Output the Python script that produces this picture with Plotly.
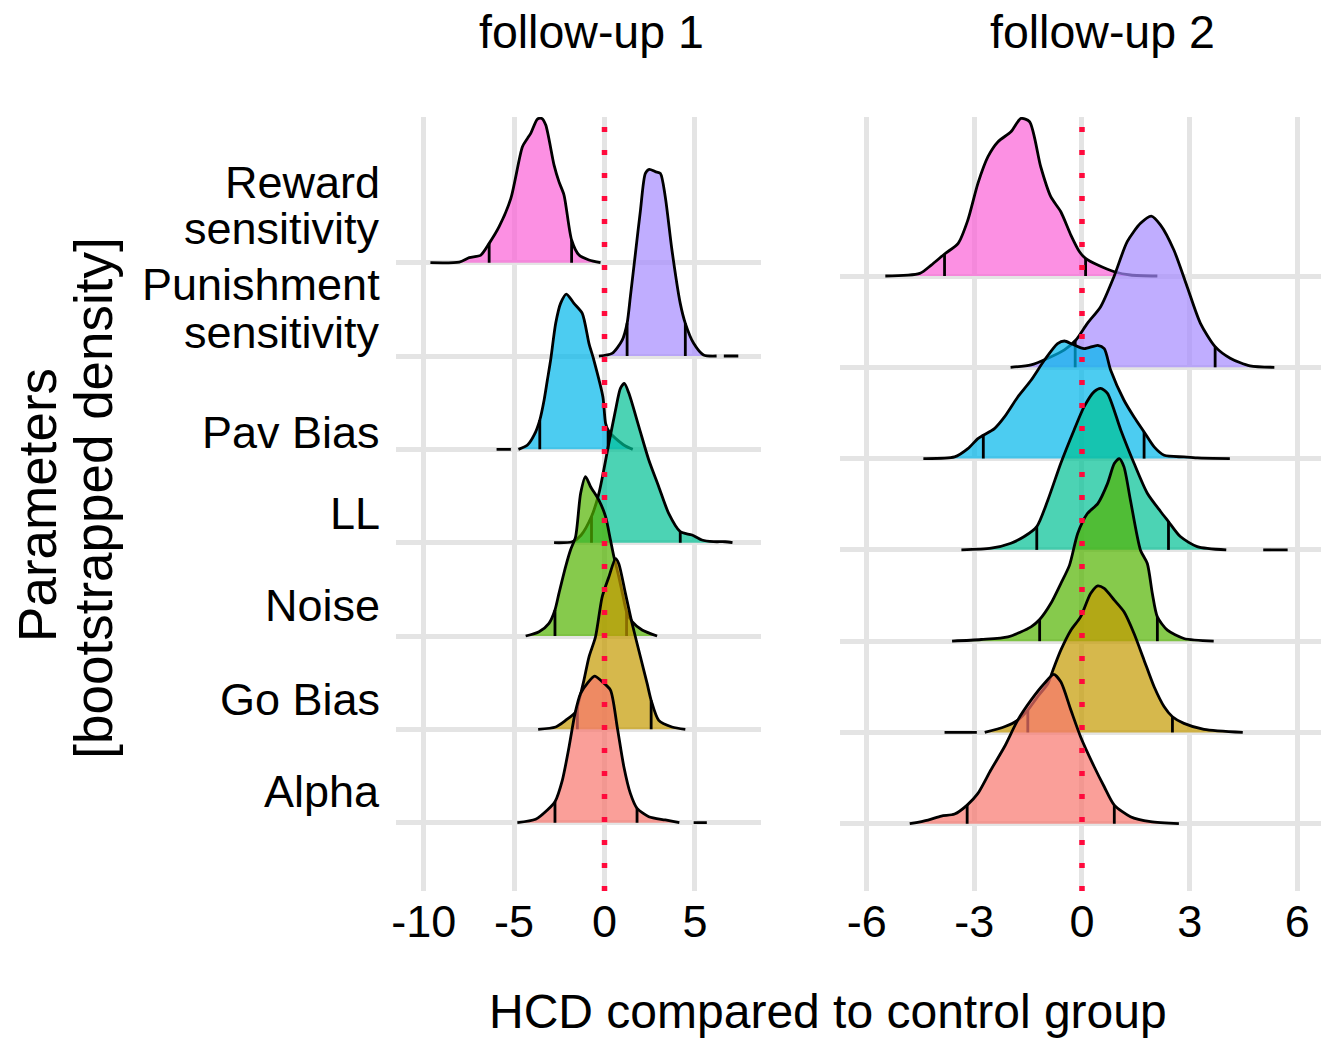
import numpy as np
import plotly.graph_objects as go

# ---------------- data ----------------
categories = ["Alpha", "Go Bias", "Noise", "LL", "Pav Bias",
              "Punishment sensitivity", "Reward sensitivity"]
colors = ["#F8766D", "#C49A00", "#53B400", "#00C094", "#00B6EB", "#A58AFF", "#FB61D7"]
panel_titles = ["follow-up 1", "follow-up 2"]
f1_ticks = [-10, -5, 0, 5]
f2_ticks = [-6, -3, 0, 3, 6]

# follow-up 1: x = HCD difference, h = scaled density height (in ridge units)
f1_reward_x = [-9.63, -8.03, -7.48, -6.84, -6.38, -5.83, -5.18, -4.54, -4.26, -4.08, -3.71, -3.47, -3.25, -2.79, -2.52, -2.24, -1.82, -1.41, -0.86, -0.22]
f1_reward_h = [0, 0.007, 0.054, 0.082, 0.207, 0.386, 0.689, 1.243, 1.332, 1.386, 1.539, 1.546, 1.475, 1.046, 0.868, 0.725, 0.243, 0.082, 0.029, 0]
f1_reward_q = [-6.38, -1.82]

f1_pun_x = [-0.31, 0.42, 0.98, 1.25, 1.43, 1.71, 1.99, 2.26, 2.48, 2.81, 3.09, 3.36, 3.73, 4.19, 4.47, 4.93, 5.48, 6.2]
f1_pun_h = [0, 0.029, 0.171, 0.35, 0.636, 1.1, 1.564, 1.957, 2.0, 1.975, 1.957, 1.707, 1.136, 0.564, 0.35, 0.136, 0.011, 0]
f1_pun_q = [1.25, 4.47]
f1_pun_tail = [6.6, 7.4]

f1_pav_x = [-4.76, -4.26, -3.89, -3.58, -3.34, -3.16, -2.98, -2.70, -2.43, -2.11, -1.69, -1.23, -0.86, -0.59, -0.09, 0.06, 0.24, 0.61, 1.16, 1.56]
f1_pav_h = [0, 0.046, 0.154, 0.314, 0.529, 0.743, 0.957, 1.35, 1.564, 1.664, 1.564, 1.457, 1.136, 0.957, 0.564, 0.279, 0.19, 0.118, 0.036, 0]
f1_pav_q = [-3.58, 0.2]
f1_pav_tail = [-5.97, -5.18]

f1_ll_x = [-2.79, -1.78, -1.3, -0.72, -0.31, 0.24, 0.61, 0.88, 1.10, 1.35, 1.90, 2.45, 3.00, 3.55, 4.19, 4.84, 5.39, 6.03, 6.67, 7.08]
f1_ll_h = [0, 0.01, 0.08, 0.28, 0.529, 1.064, 1.421, 1.654, 1.707, 1.6, 1.243, 0.886, 0.6, 0.314, 0.118, 0.082, 0.029, 0.011, 0.01, 0]
f1_ll_q = [-0.72, 4.19]

f1_noise_x = [-4.36, -3.62, -3.07, -2.74, -2.52, -2.15, -1.88, -1.6, -1.32, -1.05, -0.77, -0.31, 0.06, 0.33, 0.52, 0.79, 1.03, 1.22, 1.53, 2.08, 2.91]
f1_noise_h = [0, 0.046, 0.136, 0.279, 0.457, 0.743, 0.921, 1.064, 1.529, 1.707, 1.6, 1.457, 1.279, 1.029, 0.85, 0.636, 0.42, 0.26, 0.154, 0.064, 0]
f1_noise_q = [-2.74, 1.22]

f1_go_x = [-3.67, -2.70, -2.15, -1.6, -1.41, -1.14, -0.86, -0.50, -0.13, 0.24, 0.61, 0.79, 1.16, 1.53, 1.99, 2.36, 2.58, 3.0, 3.73, 4.47]
f1_go_h = [0, 0.025, 0.096, 0.186, 0.31, 0.525, 0.775, 0.989, 1.418, 1.632, 1.829, 1.775, 1.454, 1.132, 0.775, 0.489, 0.311, 0.096, 0.025, 0]
f1_go_q = [-1.5, 2.58]

f1_alpha_x = [-4.82, -3.81, -3.16, -2.74, -2.33, -1.96, -1.63, -1.32, -0.95, -0.55, -0.13, 0.33, 0.70, 1.07, 1.43, 1.80, 2.45, 3.36, 4.14]
f1_alpha_h = [0, 0.036, 0.136, 0.225, 0.457, 0.814, 1.171, 1.386, 1.493, 1.571, 1.511, 1.421, 1.029, 0.6, 0.314, 0.154, 0.064, 0.029, 0]
f1_alpha_q = [-2.74, 1.80]
f1_alpha_tail = [4.93, 5.66]

# follow-up 2
f2_reward_x = [-5.48, -4.52, -4.2, -3.83, -3.45, -3.18, -2.90, -2.62, -2.34, -1.98, -1.70, -1.46, -1.15, -0.87, -0.59, -0.31, -0.07, 0.10, 0.44, 0.90, 1.35, 2.10]
f2_reward_h = [0, 0.029, 0.12, 0.241, 0.358, 0.613, 1.015, 1.307, 1.471, 1.58, 1.726, 1.69, 1.197, 0.869, 0.704, 0.449, 0.266, 0.193, 0.12, 0.047, 0.011, 0]
f2_reward_q = [-3.83, 0.10]

f2_pun_x = [-1.99, -1.42, -0.95, -0.49, -0.17, 0.15, 0.52, 0.89, 1.26, 1.63, 1.93, 2.19, 2.56, 2.93, 3.30, 3.71, 4.13, 4.68, 5.36]
f2_pun_h = [0, 0.026, 0.099, 0.19, 0.299, 0.482, 0.664, 0.993, 1.376, 1.577, 1.657, 1.558, 1.285, 0.883, 0.482, 0.226, 0.099, 0.015, 0]
f2_pun_q = [-0.19, 3.71]

f2_pav_x = [-4.42, -3.55, -3.18, -2.90, -2.75, -2.44, -2.16, -1.79, -1.42, -1.05, -0.68, -0.49, -0.26, 0.06, 0.44, 0.62, 0.80, 1.17, 1.45, 1.73, 2.01, 2.29, 2.84, 3.21, 4.12]
f2_pav_h = [0, 0.018, 0.109, 0.219, 0.255, 0.328, 0.456, 0.675, 0.858, 1.077, 1.259, 1.288, 1.252, 1.204, 1.241, 1.204, 0.967, 0.639, 0.456, 0.292, 0.128, 0.036, 0.018, 0.007, 0]
f2_pav_q = [-2.75, 1.73]

f2_ll_x = [-3.36, -2.53, -1.98, -1.61, -1.26, -0.95, -0.59, -0.22, 0.06, 0.34, 0.52, 0.71, 1.08, 1.45, 1.82, 2.19, 2.41, 2.74, 3.21, 4.02]
f2_ll_h = [0, 0.018, 0.073, 0.146, 0.255, 0.547, 0.949, 1.314, 1.569, 1.734, 1.77, 1.715, 1.314, 0.949, 0.62, 0.42, 0.31, 0.146, 0.036, 0]
f2_ll_q = [-1.26, 2.41]
f2_ll_tail = [5.05, 5.73]

f2_noise_x = [-3.62, -2.81, -2.06, -1.42, -1.18, -0.87, -0.59, -0.35, -0.12, 0.15, 0.44, 0.71, 0.90, 1.04, 1.17, 1.35, 1.63, 1.82, 1.96, 2.10, 2.38, 2.84, 3.67]
f2_noise_h = [0, 0.018, 0.047, 0.157, 0.237, 0.412, 0.631, 0.83, 1.179, 1.398, 1.507, 1.726, 1.945, 2.0, 1.909, 1.544, 0.996, 0.85, 0.522, 0.266, 0.12, 0.029, 0]
f2_noise_q = [-1.18, 2.10]

f2_go_x = [-2.71, -2.16, -1.79, -1.51, -1.24, -0.95, -0.81, -0.59, -0.31, -0.04, 0.24, 0.44, 0.62, 0.90, 1.17, 1.45, 1.73, 2.01, 2.29, 2.52, 2.84, 3.40, 4.48]
f2_go_h = [0, 0.062, 0.135, 0.245, 0.39, 0.536, 0.682, 0.901, 1.12, 1.266, 1.522, 1.606, 1.577, 1.449, 1.321, 1.084, 0.792, 0.5, 0.281, 0.172, 0.099, 0.033, 0]
f2_go_q = [-1.51, 2.52]
f2_go_tail = [-3.83, -2.93]

f2_alpha_x = [-4.80, -4.29, -3.92, -3.55, -3.20, -2.90, -2.54, -2.16, -1.79, -1.42, -1.05, -0.79, -0.59, -0.31, -0.04, 0.34, 0.62, 0.90, 1.35, 1.91, 2.70]
f2_alpha_h = [0, 0.04, 0.084, 0.106, 0.204, 0.332, 0.588, 0.843, 1.135, 1.354, 1.536, 1.635, 1.555, 1.245, 0.953, 0.624, 0.405, 0.204, 0.077, 0.022, 0]
f2_alpha_q = [-3.20, 0.90]

# ridges per panel, bottom (Alpha) to top (Reward): (x, h, quantiles, tail)
panel1 = [
    (f1_alpha_x, f1_alpha_h, f1_alpha_q, f1_alpha_tail),
    (f1_go_x, f1_go_h, f1_go_q, None),
    (f1_noise_x, f1_noise_h, f1_noise_q, None),
    (f1_ll_x, f1_ll_h, f1_ll_q, None),
    (f1_pav_x, f1_pav_h, f1_pav_q, f1_pav_tail),
    (f1_pun_x, f1_pun_h, f1_pun_q, f1_pun_tail),
    (f1_reward_x, f1_reward_h, f1_reward_q, None),
]
panel2 = [
    (f2_alpha_x, f2_alpha_h, f2_alpha_q, None),
    (f2_go_x, f2_go_h, f2_go_q, f2_go_tail),
    (f2_noise_x, f2_noise_h, f2_noise_q, None),
    (f2_ll_x, f2_ll_h, f2_ll_q, f2_ll_tail),
    (f2_pav_x, f2_pav_h, f2_pav_q, None),
    (f2_pun_x, f2_pun_h, f2_pun_q, None),
    (f2_reward_x, f2_reward_h, f2_reward_q, None),
]

# ---------------- figure ----------------
W, H = 1325, 1038
FONT = "Liberation Sans, Arial, Helvetica, sans-serif"
LINE_W = 2.8
SMOOTH = 0.7


def hex_rgba(hx, a):
    hx = hx.lstrip("#")
    return "rgba(%d,%d,%d,%.2f)" % (int(hx[0:2], 16), int(hx[2:4], 16), int(hx[4:6], 16), a)


fig = go.Figure()

for panel, xa, ya in [(panel1, "x", "y"), (panel2, "x2", "y2")]:
    # draw from top ridge to bottom ridge so lower ridges overlay upper ones
    for idx in range(len(categories) - 1, -1, -1):
        xs, hs, qs, tail = panel[idx]
        ys = [idx + h for h in hs]
        fig.add_trace(go.Scatter(
            x=xs, y=ys, xaxis=xa, yaxis=ya, mode="lines",
            line=dict(width=0, shape="spline", smoothing=SMOOTH),
            fill="toself", fillcolor=hex_rgba(colors[idx], 0.7),
            hoverinfo="skip", showlegend=False))
        fig.add_trace(go.Scatter(
            x=xs, y=ys, xaxis=xa, yaxis=ya, mode="lines",
            line=dict(width=LINE_W, color="black", shape="spline", smoothing=SMOOTH),
            hoverinfo="skip", showlegend=False))
        qx, qy = [], []
        for q in qs:
            qx += [q, q, None]
            qy += [idx, idx + float(np.interp(q, xs, hs)), None]
        fig.add_trace(go.Scatter(
            x=qx, y=qy, xaxis=xa, yaxis=ya, mode="lines",
            line=dict(width=LINE_W, color="black"),
            hoverinfo="skip", showlegend=False))
        if tail is not None:
            fig.add_trace(go.Scatter(
                x=tail, y=[idx, idx], xaxis=xa, yaxis=ya, mode="lines",
                line=dict(width=LINE_W, color="black"),
                hoverinfo="skip", showlegend=False))


def px_x(p):
    return p / W


def px_y(p):
    return 1 - p / H


grid_col = "#E4E4E4"
grid_w = 4.5
y_dom = [px_y(891), px_y(117)]

axis_common = dict(showline=False, zeroline=False, showgrid=True,
                   gridcolor=grid_col, gridwidth=grid_w, ticks="")
tick_font = dict(family=FONT, size=45, color="black")

fig.update_layout(
    width=W, height=H,
    margin=dict(l=0, r=0, t=0, b=0),
    paper_bgcolor="white", plot_bgcolor="white",
    showlegend=False,
    xaxis=dict(domain=[px_x(392.7), px_x(759)], range=[-11.56, 8.64],
               tickvals=f1_ticks, ticktext=[str(t) for t in f1_ticks], anchor="y",
               tickfont=tick_font, **axis_common),
    xaxis2=dict(domain=[px_x(839), px_x(1321)], range=[-6.73, 6.66],
                tickvals=f2_ticks, ticktext=[str(t) for t in f2_ticks], anchor="y2",
                tickfont=tick_font, **axis_common),
    yaxis=dict(domain=y_dom, range=[-0.732, 7.561], tickvals=list(range(len(categories))),
               showticklabels=False, anchor="x", **axis_common),
    yaxis2=dict(domain=y_dom, range=[-0.737, 7.742], tickvals=list(range(len(categories))),
                showticklabels=False, anchor="x2", **axis_common),
)

# red dotted zero lines (on top of ridges)
for xr, yr in [("x", "y domain"), ("x2", "y2 domain")]:
    fig.add_shape(type="line", xref=xr, yref=yr, x0=0, x1=0, y0=0, y1=1,
                  line=dict(color="#FF0A3C", width=5.5, dash="5px,18px"), layer="above")

ann = []
# category labels (two lines for the sensitivity parameters)
label_lines = [
    ("Reward", 181), ("sensitivity", 227),
    ("Punishment", 284), ("sensitivity", 332),
    ("Pav Bias", 431), ("LL", 512), ("Noise", 604), ("Go Bias", 698), ("Alpha", 790),
]
for txt, cy in label_lines:
    ann.append(dict(text=txt, x=px_x(379), y=px_y(cy + 1), xref="paper", yref="paper",
                    xanchor="right", yanchor="middle", showarrow=False,
                    font=dict(family=FONT, size=45, color="black")))
# strip titles
for t, cx in zip(panel_titles, [589, 1102]):
    ann.append(dict(text=t, x=px_x(cx), y=px_y(32), xref="paper", yref="paper",
                    xanchor="center", yanchor="middle", showarrow=False,
                    font=dict(family=FONT, size=46.5, color="black")))
# axis titles
ann.append(dict(text="HCD compared to control group", x=px_x(826), y=px_y(1011),
                xref="paper", yref="paper", xanchor="center", yanchor="middle",
                showarrow=False, font=dict(family=FONT, size=48, color="black")))
ann.append(dict(text="Parameters", x=px_x(33), y=px_y(505), xref="paper", yref="paper",
                xanchor="center", yanchor="middle", textangle=-90, showarrow=False,
                font=dict(family=FONT, size=53, color="black")))
ann.append(dict(text="[bootstrapped density]", x=px_x(90), y=px_y(498), xref="paper", yref="paper",
                xanchor="center", yanchor="middle", textangle=-90, showarrow=False,
                font=dict(family=FONT, size=53, color="black")))
fig.update_layout(annotations=ann)

fig.write_html("out.html")
